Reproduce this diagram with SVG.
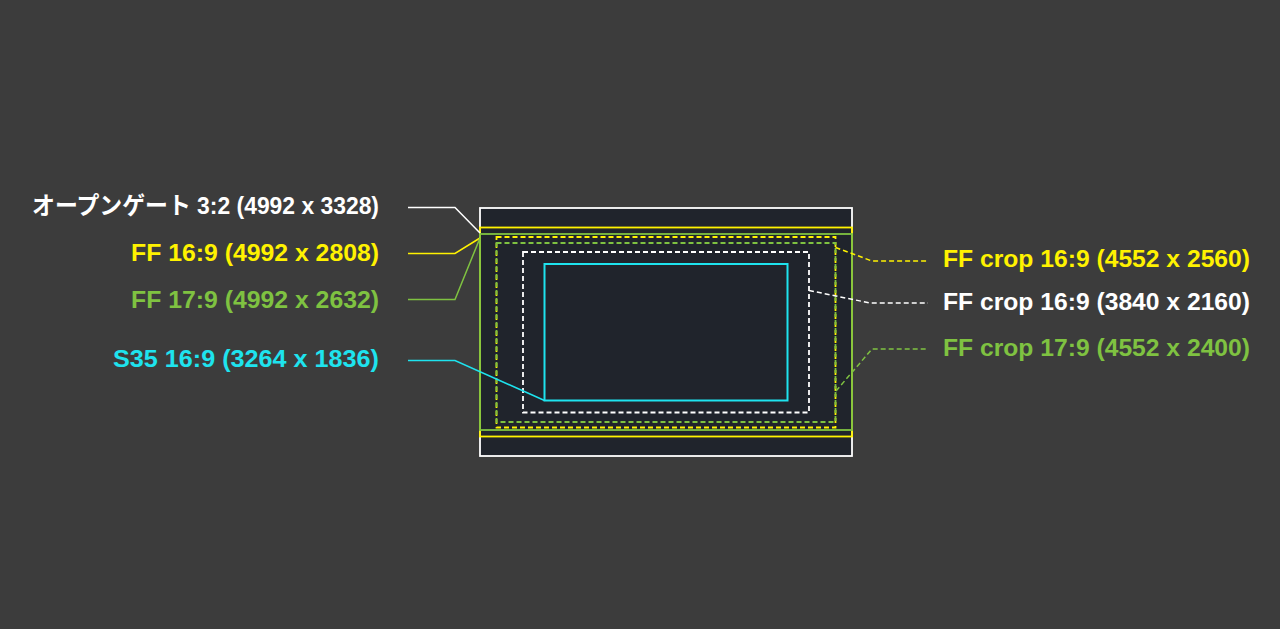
<svg xmlns="http://www.w3.org/2000/svg" width="1280" height="629" viewBox="0 0 1280 629">
<style>
.lbl{font-family:"Liberation Sans","Noto Sans CJK JP",sans-serif;font-weight:bold;font-size:24px}
.w{fill:#ffffff}.y{fill:#fff200}.g{fill:#7fc241}.c{fill:#1ee3ee}
.frame{fill:none;stroke-width:1.8}
.dash{fill:none;stroke-width:1.8;stroke-dasharray:5 3}
.conn{fill:none;stroke-width:1.5}
.cdash{fill:none;stroke-width:1.5;stroke-dasharray:5 3}
</style>
<rect width="1280" height="629" fill="#3c3c3c"/>
<g id="sensor">
  <rect id="open-gate" x="480" y="208" width="372" height="248" fill="#20242c" stroke="#ffffff" stroke-width="1.8"/>
  <rect id="ff-16-9" class="frame" x="480" y="227.5" width="372" height="209" stroke="#fff200"/>
  <rect id="ff-17-9" class="frame" x="480" y="234" width="372" height="196" stroke="#7fc241"/>
  <rect id="ff-crop-16-9-4552" class="dash" x="496.5" y="237" width="339" height="190.5" stroke="#fff200"/>
  <rect id="ff-crop-17-9" class="dash" x="496.5" y="243" width="339" height="179" stroke="#7fc241"/>
  <rect id="ff-crop-16-9-3840" class="dash" x="523" y="252" width="286" height="160.5" stroke="#ffffff"/>
  <rect id="s35-16-9" x="544.5" y="264" width="243" height="136.5" fill="none" stroke="#1ee3ee" stroke-width="2"/>
</g>
<g id="connectors">
  <polyline class="conn" stroke="#ffffff" points="408,207.5 455,207.5 480,233"/>
  <polyline class="conn" stroke="#fff200" points="408,253.5 455,253.5 480,238"/>
  <polyline class="conn" stroke="#7fc241" points="408,299.5 455,299.5 480,238"/>
  <polyline class="conn" stroke="#1ee3ee" points="408,360.5 455,360.5 544.5,400.5"/>
  <polyline class="cdash" stroke="#fff200" points="835.5,247.5 872,261 928,261"/>
  <polyline class="cdash" stroke="#ffffff" points="809,290.5 870,303 928,303"/>
  <polyline class="cdash" stroke="#7fc241" points="836,391 872,349 928,349"/>
</g>
<g id="label-open-gate"><text class="lbl w" x="379" y="214" text-anchor="end" textLength="347" lengthAdjust="spacingAndGlyphs">オープンゲート 3:2 (4992 x 3328)</text></g>
<g id="label-ff-16-9"><text class="lbl y" x="379" y="260.5" text-anchor="end" textLength="248" lengthAdjust="spacingAndGlyphs">FF 16:9 (4992 x 2808)</text></g>
<g id="label-ff-17-9"><text class="lbl g" x="379" y="307.5" text-anchor="end" textLength="248" lengthAdjust="spacingAndGlyphs">FF 17:9 (4992 x 2632)</text></g>
<g id="label-s35"><text class="lbl c" x="379" y="367" text-anchor="end" textLength="266" lengthAdjust="spacingAndGlyphs">S35 16:9 (3264 x 1836)</text></g>
<g id="label-ff-crop-4552-2560"><text class="lbl y" x="943" y="267" textLength="307" lengthAdjust="spacingAndGlyphs">FF crop 16:9 (4552 x 2560)</text></g>
<g id="label-ff-crop-3840"><text class="lbl w" x="943" y="309.5" textLength="307" lengthAdjust="spacingAndGlyphs">FF crop 16:9 (3840 x 2160)</text></g>
<g id="label-ff-crop-17-9"><text class="lbl g" x="943" y="356" textLength="307" lengthAdjust="spacingAndGlyphs">FF crop 17:9 (4552 x 2400)</text></g>
</svg>
